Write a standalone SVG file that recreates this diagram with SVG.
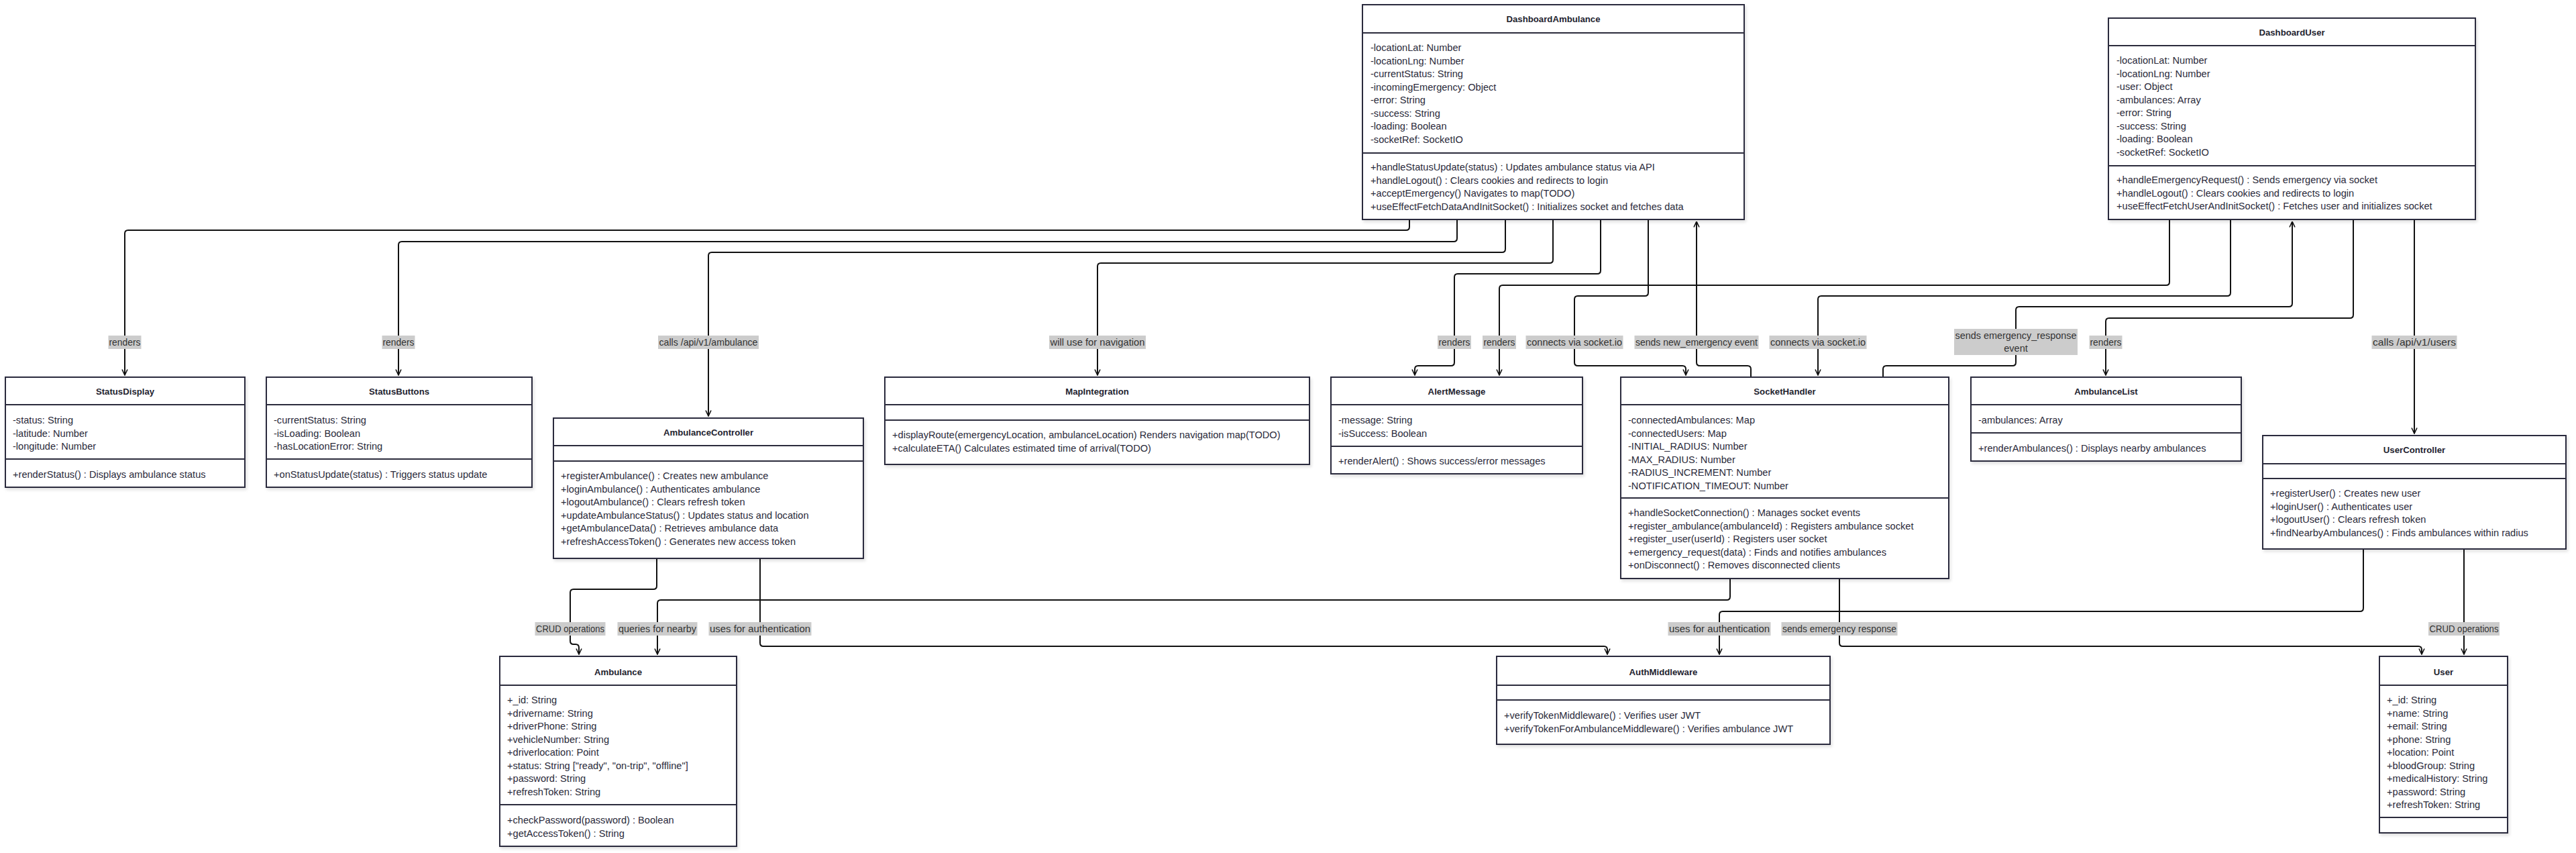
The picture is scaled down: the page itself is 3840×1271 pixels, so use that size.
<svg xmlns="http://www.w3.org/2000/svg" width="3840" height="1271" viewBox="0 0 3840 1271">
<defs>
<style>
.box{fill:#ffffff;stroke:#2b2b3c;stroke-width:2;filter:url(#sh)}
.dv{stroke:#2b2b3c;stroke-width:2}
.ti{font-family:"Liberation Sans",Arial,sans-serif;font-weight:bold;font-size:13.2px;fill:#23232f;text-anchor:middle;dominant-baseline:central}
.t{font-family:"Liberation Sans",Arial,sans-serif;font-size:14.6px;fill:#2a2a3a;dominant-baseline:central}
.e{fill:none;stroke:#111111;stroke-width:2;marker-end:url(#arr)}
.lb{fill:#cccccc}
.lt{font-family:"Liberation Sans",Arial,sans-serif;font-size:14.5px;fill:#333333;text-anchor:middle;dominant-baseline:central}
</style>
<filter id="sh" x="-5%" y="-5%" width="110%" height="115%">
<feDropShadow dx="2" dy="3" stdDeviation="2" flood-color="#000000" flood-opacity="0.12"/>
</filter>
<marker id="arr" viewBox="0 0 10 10" refX="9.5" refY="5" markerWidth="10" markerHeight="10" markerUnits="userSpaceOnUse" orient="auto">
<path d="M1,1 L9.5,5 L1,9" fill="none" stroke="#111111" stroke-width="1.6"/>
</marker>
</defs>
<rect x="0" y="0" width="3840" height="1271" fill="#ffffff"/>

<g id="connectors">
<path class="e" d="M2101,327 V338 Q2101,343 2096,343 H191 Q186,343 186,348 V559"/>
<path class="e" d="M2172,327 V355 Q2172,360 2167,360 H599 Q594,360 594,365 V559"/>
<path class="e" d="M2244,327 V371 Q2244,376 2239,376 H1061 Q1056,376 1056,381 V620"/>
<path class="e" d="M2315,327 V387 Q2315,392 2310,392 H1641 Q1636,392 1636,397 V559"/>
<path class="e" d="M2386,327 V403 Q2386,408 2381,408 H2173 Q2168,408 2168,413 V540 Q2168,545 2163,545 H2114 Q2109,545 2109,550 V559"/>
<path class="e" d="M3234,327 V420 Q3234,425 3229,425 H2240 Q2235,425 2235,430 V559"/>
<path class="e" d="M2457,327 V436 Q2457,441 2452,441 H2352 Q2347,441 2347,446 V540 Q2347,545 2352,545 H2508 Q2513,545 2513,550 V559"/>
<path class="e" d="M2610,562 V550 Q2610,545 2605,545 H2534 Q2529,545 2529,540 V330"/>
<path class="e" d="M3325,327 V436 Q3325,441 3320,441 H2715 Q2710,441 2710,446 V559"/>
<path class="e" d="M2807,562 V550 Q2807,545 2812,545 H3000 Q3005,545 3005,540 V462 Q3005,457 3010,457 H3412 Q3417,457 3417,452 V330"/>
<path class="e" d="M3508,327 V469 Q3508,474 3503,474 H3144 Q3139,474 3139,479 V559"/>
<path class="e" d="M3599,327 V646"/>
<path class="e" d="M979,832 V873 Q979,878 974,878 H855 Q850,878 850,883 V955 Q850,960 855,960 H858 Q863,960 863,965 V975"/>
<path class="e" d="M1133,832 V958 Q1133,963 1138,963 H2391 Q2396,963 2396,968 V975"/>
<path class="e" d="M2579,862 V889 Q2579,894 2574,894 H985 Q980,894 980,899 V975"/>
<path class="e" d="M3523,818 V906 Q3523,911 3518,911 H2568 Q2563,911 2563,916 V975"/>
<path class="e" d="M2742,862 V958 Q2742,963 2747,963 H3605 Q3610,963 3610,968 V975"/>
<path class="e" d="M3673,818 V975"/>

<g id="edge-labels">
<rect class="lb" x="161.5" y="500" width="49" height="20"/><text class="lt" x="186" y="510" textLength="47" lengthAdjust="spacingAndGlyphs">renders</text>
<rect class="lb" x="569.5" y="500" width="49" height="20"/><text class="lt" x="594" y="510" textLength="47" lengthAdjust="spacingAndGlyphs">renders</text>
<rect class="lb" x="981" y="500" width="150" height="20"/><text class="lt" x="1056" y="510" textLength="147" lengthAdjust="spacingAndGlyphs">calls /api/v1/ambulance</text>
<rect class="lb" x="1564" y="500" width="144" height="20"/><text class="lt" x="1636" y="510" textLength="141" lengthAdjust="spacingAndGlyphs">will use for navigation</text>
<rect class="lb" x="2143" y="500" width="50" height="20"/><text class="lt" x="2168" y="510" textLength="47" lengthAdjust="spacingAndGlyphs">renders</text>
<rect class="lb" x="2210" y="500" width="50" height="20"/><text class="lt" x="2235" y="510" textLength="47" lengthAdjust="spacingAndGlyphs">renders</text>
<rect class="lb" x="2274.5" y="500" width="145" height="20"/><text class="lt" x="2347" y="510" textLength="142" lengthAdjust="spacingAndGlyphs">connects via socket.io</text>
<rect class="lb" x="2436.5" y="500" width="185" height="20"/><text class="lt" x="2529" y="510" textLength="182" lengthAdjust="spacingAndGlyphs">sends new_emergency event</text>
<rect class="lb" x="2637.5" y="500" width="145" height="20"/><text class="lt" x="2710" y="510" textLength="142" lengthAdjust="spacingAndGlyphs">connects via socket.io</text>
<rect class="lb" x="2913" y="490" width="184" height="39"/><text class="lt" x="3005" y="500" textLength="181" lengthAdjust="spacingAndGlyphs">sends emergency_response</text><text class="lt" x="3005" y="519">event</text>
<rect class="lb" x="3114.5" y="500" width="49" height="20"/><text class="lt" x="3139" y="510" textLength="47" lengthAdjust="spacingAndGlyphs">renders</text>
<rect class="lb" x="3535.5" y="500" width="127" height="20"/><text class="lt" x="3599" y="510" textLength="124" lengthAdjust="spacingAndGlyphs">calls /api/v1/users</text>
<rect class="lb" x="797.5" y="927" width="105" height="20"/><text class="lt" x="850" y="937" textLength="102" lengthAdjust="spacingAndGlyphs">CRUD operations</text>
<rect class="lb" x="920.5" y="927" width="119" height="20"/><text class="lt" x="980" y="937" textLength="116" lengthAdjust="spacingAndGlyphs">queries for nearby</text>
<rect class="lb" x="1056.5" y="927" width="153" height="20"/><text class="lt" x="1133" y="937" textLength="150" lengthAdjust="spacingAndGlyphs">uses for authentication</text>
<rect class="lb" x="2486.5" y="927" width="153" height="20"/><text class="lt" x="2563" y="937" textLength="150" lengthAdjust="spacingAndGlyphs">uses for authentication</text>
<rect class="lb" x="2655.5" y="927" width="173" height="20"/><text class="lt" x="2742" y="937" textLength="170" lengthAdjust="spacingAndGlyphs">sends emergency response</text>
<rect class="lb" x="3620" y="927" width="106" height="20"/><text class="lt" x="3673" y="937" textLength="103" lengthAdjust="spacingAndGlyphs">CRUD operations</text>
</g>
</g>

<g id="DashboardAmbulance">
<rect class="box" x="2031" y="7" width="569" height="320"/>
<line class="dv" x1="2031" y1="49" x2="2600" y2="49"/>
<line class="dv" x1="2031" y1="228" x2="2600" y2="228"/>
<text class="ti" x="2315.5" y="28">DashboardAmbulance</text>
<text class="t" x="2043" y="71">-locationLat: Number</text>
<text class="t" x="2043" y="90.5">-locationLng: Number</text>
<text class="t" x="2043" y="110">-currentStatus: String</text>
<text class="t" x="2043" y="129.5">-incomingEmergency: Object</text>
<text class="t" x="2043" y="149">-error: String</text>
<text class="t" x="2043" y="168.5">-success: String</text>
<text class="t" x="2043" y="188">-loading: Boolean</text>
<text class="t" x="2043" y="207.5">-socketRef: SocketIO</text>
<text class="t" x="2043" y="249">+handleStatusUpdate(status) : Updates ambulance status via API</text>
<text class="t" x="2043" y="268.5">+handleLogout() : Clears cookies and redirects to login</text>
<text class="t" x="2043" y="288">+acceptEmergency() Navigates to map(TODO)</text>
<text class="t" x="2043" y="307.5">+useEffectFetchDataAndInitSocket() : Initializes socket and fetches data</text>
</g>

<g id="DashboardUser">
<rect class="box" x="3143" y="27" width="547" height="300"/>
<line class="dv" x1="3143" y1="68" x2="3690" y2="68"/>
<line class="dv" x1="3143" y1="247" x2="3690" y2="247"/>
<text class="ti" x="3416.5" y="48">DashboardUser</text>
<text class="t" x="3155" y="90">-locationLat: Number</text>
<text class="t" x="3155" y="109.5">-locationLng: Number</text>
<text class="t" x="3155" y="129">-user: Object</text>
<text class="t" x="3155" y="148.5">-ambulances: Array</text>
<text class="t" x="3155" y="168">-error: String</text>
<text class="t" x="3155" y="187.5">-success: String</text>
<text class="t" x="3155" y="207">-loading: Boolean</text>
<text class="t" x="3155" y="226.5">-socketRef: SocketIO</text>
<text class="t" x="3155" y="268">+handleEmergencyRequest() : Sends emergency via socket</text>
<text class="t" x="3155" y="287.5">+handleLogout() : Clears cookies and redirects to login</text>
<text class="t" x="3155" y="307">+useEffectFetchUserAndInitSocket() : Fetches user and initializes socket</text>
</g>

<g id="StatusDisplay">
<rect class="box" x="8" y="562" width="357" height="164"/>
<line class="dv" x1="8" y1="603" x2="365" y2="603"/>
<line class="dv" x1="8" y1="684" x2="365" y2="684"/>
<text class="ti" x="186.5" y="583">StatusDisplay</text>
<text class="t" x="19" y="626">-status: String</text>
<text class="t" x="19" y="645.5">-latitude: Number</text>
<text class="t" x="19" y="665">-longitude: Number</text>
<text class="t" x="19" y="707">+renderStatus() : Displays ambulance status</text>
</g>

<g id="StatusButtons">
<rect class="box" x="397" y="562" width="396" height="164"/>
<line class="dv" x1="397" y1="603" x2="793" y2="603"/>
<line class="dv" x1="397" y1="684" x2="793" y2="684"/>
<text class="ti" x="595" y="583">StatusButtons</text>
<text class="t" x="408" y="626">-currentStatus: String</text>
<text class="t" x="408" y="645.5">-isLoading: Boolean</text>
<text class="t" x="408" y="665">-hasLocationError: String</text>
<text class="t" x="408" y="707">+onStatusUpdate(status) : Triggers status update</text>
</g>

<g id="AmbulanceController">
<rect class="box" x="825" y="623" width="462" height="209"/>
<line class="dv" x1="825" y1="664" x2="1287" y2="664"/>
<line class="dv" x1="825" y1="687" x2="1287" y2="687"/>
<text class="ti" x="1056" y="644">AmbulanceController</text>
<text class="t" x="836" y="709">+registerAmbulance() : Creates new ambulance</text>
<text class="t" x="836" y="728.5">+loginAmbulance() : Authenticates ambulance</text>
<text class="t" x="836" y="748">+logoutAmbulance() : Clears refresh token</text>
<text class="t" x="836" y="767.5">+updateAmbulanceStatus() : Updates status and location</text>
<text class="t" x="836" y="787">+getAmbulanceData() : Retrieves ambulance data</text>
<text class="t" x="836" y="806.5">+refreshAccessToken() : Generates new access token</text>
</g>

<g id="MapIntegration">
<rect class="box" x="1319" y="562" width="633" height="130"/>
<line class="dv" x1="1319" y1="603" x2="1952" y2="603"/>
<line class="dv" x1="1319" y1="626" x2="1952" y2="626"/>
<text class="ti" x="1635.5" y="583">MapIntegration</text>
<text class="t" x="1330" y="648">+displayRoute(emergencyLocation, ambulanceLocation) Renders navigation map(TODO)</text>
<text class="t" x="1330" y="667.5">+calculateETA() Calculates estimated time of arrival(TODO)</text>
</g>

<g id="AlertMessage">
<rect class="box" x="1984" y="562" width="375" height="144"/>
<line class="dv" x1="1984" y1="603" x2="2359" y2="603"/>
<line class="dv" x1="1984" y1="665" x2="2359" y2="665"/>
<text class="ti" x="2171.5" y="583">AlertMessage</text>
<text class="t" x="1995" y="626">-message: String</text>
<text class="t" x="1995" y="645.5">-isSuccess: Boolean</text>
<text class="t" x="1995" y="687">+renderAlert() : Shows success/error messages</text>
</g>

<g id="SocketHandler">
<rect class="box" x="2416" y="562" width="489" height="300"/>
<line class="dv" x1="2416" y1="603" x2="2905" y2="603"/>
<line class="dv" x1="2416" y1="742" x2="2905" y2="742"/>
<text class="ti" x="2660.5" y="583">SocketHandler</text>
<text class="t" x="2427" y="626">-connectedAmbulances: Map</text>
<text class="t" x="2427" y="645.5">-connectedUsers: Map</text>
<text class="t" x="2427" y="665">-INITIAL_RADIUS: Number</text>
<text class="t" x="2427" y="684.5">-MAX_RADIUS: Number</text>
<text class="t" x="2427" y="704">-RADIUS_INCREMENT: Number</text>
<text class="t" x="2427" y="723.5">-NOTIFICATION_TIMEOUT: Number</text>
<text class="t" x="2427" y="764">+handleSocketConnection() : Manages socket events</text>
<text class="t" x="2427" y="783.5">+register_ambulance(ambulanceId) : Registers ambulance socket</text>
<text class="t" x="2427" y="803">+register_user(userId) : Registers user socket</text>
<text class="t" x="2427" y="822.5">+emergency_request(data) : Finds and notifies ambulances</text>
<text class="t" x="2427" y="842">+onDisconnect() : Removes disconnected clients</text>
</g>

<g id="AmbulanceList">
<rect class="box" x="2938" y="562" width="403" height="125"/>
<line class="dv" x1="2938" y1="603" x2="3341" y2="603"/>
<line class="dv" x1="2938" y1="645" x2="3341" y2="645"/>
<text class="ti" x="3139.5" y="583">AmbulanceList</text>
<text class="t" x="2949" y="626">-ambulances: Array</text>
<text class="t" x="2949" y="668">+renderAmbulances() : Displays nearby ambulances</text>
</g>

<g id="UserController">
<rect class="box" x="3373" y="649" width="452" height="169"/>
<line class="dv" x1="3373" y1="691" x2="3825" y2="691"/>
<line class="dv" x1="3373" y1="713" x2="3825" y2="713"/>
<text class="ti" x="3599" y="670">UserController</text>
<text class="t" x="3384" y="735">+registerUser() : Creates new user</text>
<text class="t" x="3384" y="754.5">+loginUser() : Authenticates user</text>
<text class="t" x="3384" y="774">+logoutUser() : Clears refresh token</text>
<text class="t" x="3384" y="793.5">+findNearbyAmbulances() : Finds ambulances within radius</text>
</g>

<g id="Ambulance">
<rect class="box" x="745" y="978" width="353" height="283"/>
<line class="dv" x1="745" y1="1021" x2="1098" y2="1021"/>
<line class="dv" x1="745" y1="1199" x2="1098" y2="1199"/>
<text class="ti" x="921.5" y="1001">Ambulance</text>
<text class="t" x="756" y="1043">+_id: String</text>
<text class="t" x="756" y="1062.5">+drivername: String</text>
<text class="t" x="756" y="1082">+driverPhone: String</text>
<text class="t" x="756" y="1101.5">+vehicleNumber: String</text>
<text class="t" x="756" y="1121">+driverlocation: Point</text>
<text class="t" x="756" y="1140.5">+status: String ["ready", "on-trip", "offline"]</text>
<text class="t" x="756" y="1160">+password: String</text>
<text class="t" x="756" y="1179.5">+refreshToken: String</text>
<text class="t" x="756" y="1222">+checkPassword(password) : Boolean</text>
<text class="t" x="756" y="1241.5">+getAccessToken() : String</text>
</g>

<g id="AuthMiddleware">
<rect class="box" x="2231" y="978" width="497" height="131"/>
<line class="dv" x1="2231" y1="1021" x2="2728" y2="1021"/>
<line class="dv" x1="2231" y1="1043" x2="2728" y2="1043"/>
<text class="ti" x="2479.5" y="1001">AuthMiddleware</text>
<text class="t" x="2242" y="1066">+verifyTokenMiddleware() : Verifies user JWT</text>
<text class="t" x="2242" y="1085.5">+verifyTokenForAmbulanceMiddleware() : Verifies ambulance JWT</text>
</g>

<g id="User">
<rect class="box" x="3547" y="978" width="191" height="263"/>
<line class="dv" x1="3547" y1="1021" x2="3738" y2="1021"/>
<line class="dv" x1="3547" y1="1218" x2="3738" y2="1218"/>
<text class="ti" x="3642.5" y="1001">User</text>
<text class="t" x="3558" y="1043">+_id: String</text>
<text class="t" x="3558" y="1062.5">+name: String</text>
<text class="t" x="3558" y="1082">+email: String</text>
<text class="t" x="3558" y="1101.5">+phone: String</text>
<text class="t" x="3558" y="1121">+location: Point</text>
<text class="t" x="3558" y="1140.5">+bloodGroup: String</text>
<text class="t" x="3558" y="1160">+medicalHistory: String</text>
<text class="t" x="3558" y="1179.5">+password: String</text>
<text class="t" x="3558" y="1199">+refreshToken: String</text>
</g>
</svg>
